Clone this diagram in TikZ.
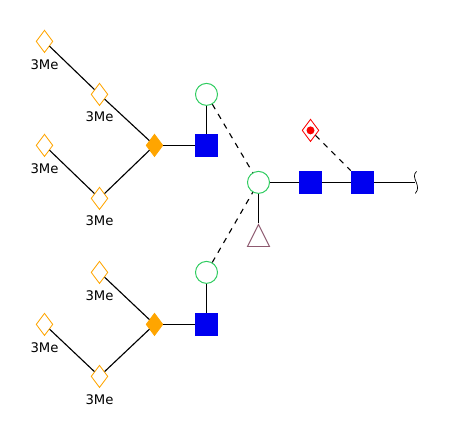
\documentclass[tikz,border=0pt]{standalone}
\usepackage{fontspec}
\setmainfont{DejaVu Sans}
\usepackage{xcolor}
\usetikzlibrary{shapes.geometric,positioning,calc}
\definecolor{galOrange}{HTML}{FFA500}
\definecolor{manGreen}{HTML}{2ECC5F}
\definecolor{nagBlue}{HTML}{0000F0}
\definecolor{fucMauve}{HTML}{8E5A70}
\definecolor{sulfRed}{HTML}{FA0000}

\begin{document}
\begin{tikzpicture}[
    on grid,
    link/.style={line width=0.8pt},
    dashlink/.style={line width=0.8pt, dash pattern=on 4pt off 4pt},
    square/.style={rectangle, fill=nagBlue, minimum size=0.575cm, inner sep=0pt},
    ring/.style={circle, draw=manGreen, line width=0.7pt, fill=white,
                 minimum size=0.55cm, inner sep=0pt},
    gem/.style={diamond, draw=galOrange, line width=0.6pt, fill=white,
                minimum width=0.42cm, minimum height=0.56cm, inner sep=0pt},
    solidgem/.style={gem, fill=galOrange},
    redgem/.style={gem, draw=sulfRed},
    dot/.style={circle, fill=sulfRed, minimum size=0.2cm, inner sep=0pt},
    wedge/.style={isosceles triangle, isosceles triangle apex angle=53,
                  shape border rotate=90, draw=fucMauve, line width=0.7pt,
                  minimum height=0.55cm, inner sep=0pt, anchor=apex},
    mod/.style={font=\fontsize{9.4}{11}\selectfont, inner sep=0pt},
]
    \useasboundingbox (0,0) rectangle (11.375,11);

    % core and stem
    \node[ring] (core) at (6.4625,6.44) {};
    \node[square, right=1.3cm of core] (stem1) {};
    \node[square, right=1.3cm of stem1] (stem2) {};
    \coordinate[right=1.3cm of stem2] (stemend);
    \coordinate[above=0.275cm of stemend] (wavetop);
    \coordinate[below=0.275cm of stemend] (wavebot);
    \node[redgem, above=1.3cm of stem1] (sulf) {};
    \node[dot] (sulfdot) at (sulf) {};
    \coordinate[below=1.025cm of core] (futip);
    \node[wedge] (fuc) at (futip) {};

    % upper arm
    \node[ring, above left=2.2cm and 1.3cm of core] (up) {};
    \node[square, below=1.275cm of up] (upsq) {};
    \node[solidgem, left=1.3cm of upsq] (upfork) {};
    \node[gem, above left=1.275cm and 1.375cm of upfork] (upa) {};
    \node[gem, above left=1.325cm and 1.375cm of upa] (upb) {};
    \node[gem, below left=1.325cm and 1.375cm of upfork] (upc) {};
    \node[gem, above left=1.325cm and 1.375cm of upc] (upd) {};

    % lower arm
    \node[ring, below left=2.25cm and 1.3cm of core] (low) {};
    \node[square, below=1.3cm of low] (lowsq) {};
    \node[solidgem, left=1.3cm of lowsq] (lowfork) {};
    \node[gem, above left=1.3cm and 1.375cm of lowfork] (lowa) {};
    \node[gem, below left=1.3cm and 1.375cm of lowfork] (lowc) {};
    \node[gem, above left=1.3cm and 1.375cm of lowc] (lowd) {};

    % labels
    \node[mod, below=0.575cm of upb] (labupb) {3Me};
    \node[mod, below=0.55cm of upa] (labupa) {3Me};
    \node[mod, below=0.575cm of upd] (labupd) {3Me};
    \node[mod, below=0.55cm of upc] (labupc) {3Me};
    \node[mod, below=0.575cm of lowa] (lablowa) {3Me};
    \node[mod, below=0.575cm of lowd] (lablowd) {3Me};
    \node[mod, below=0.575cm of lowc] (lablowc) {3Me};

    % links
    \draw[link] (core) -- (stem1);
    \draw[link] (stem1) -- (stem2);
    \draw[link] (stem2) -- (stemend);
    \draw[link] (core) -- (fuc.apex);
    \draw[dashlink] (sulf) -- (stem2);
    \draw[dashlink] (up) -- (core);
    \draw[dashlink] (low) -- (core);
    \draw[link] (up) -- (upsq);
    \draw[link] (upsq) -- (upfork);
    \draw[link] (upfork) -- (upa);
    \draw[link] (upa) -- (upb);
    \draw[link] (upfork) -- (upc);
    \draw[link] (upc) -- (upd);
    \draw[link] (low) -- (lowsq);
    \draw[link] (lowsq) -- (lowfork);
    \draw[link] (lowfork) -- (lowa);
    \draw[link] (lowfork) -- (lowc);
    \draw[link] (lowc) -- (lowd);
    \draw[line width=0.5pt] ($(wavetop)+(0.05,0)$)
        .. controls ($(stemend)+(-0.12,0.12)$) and ($(stemend)+(0.2,-0.08)$)
        .. ($(wavebot)+(0.02,0)$);
\end{tikzpicture}
\end{document}
